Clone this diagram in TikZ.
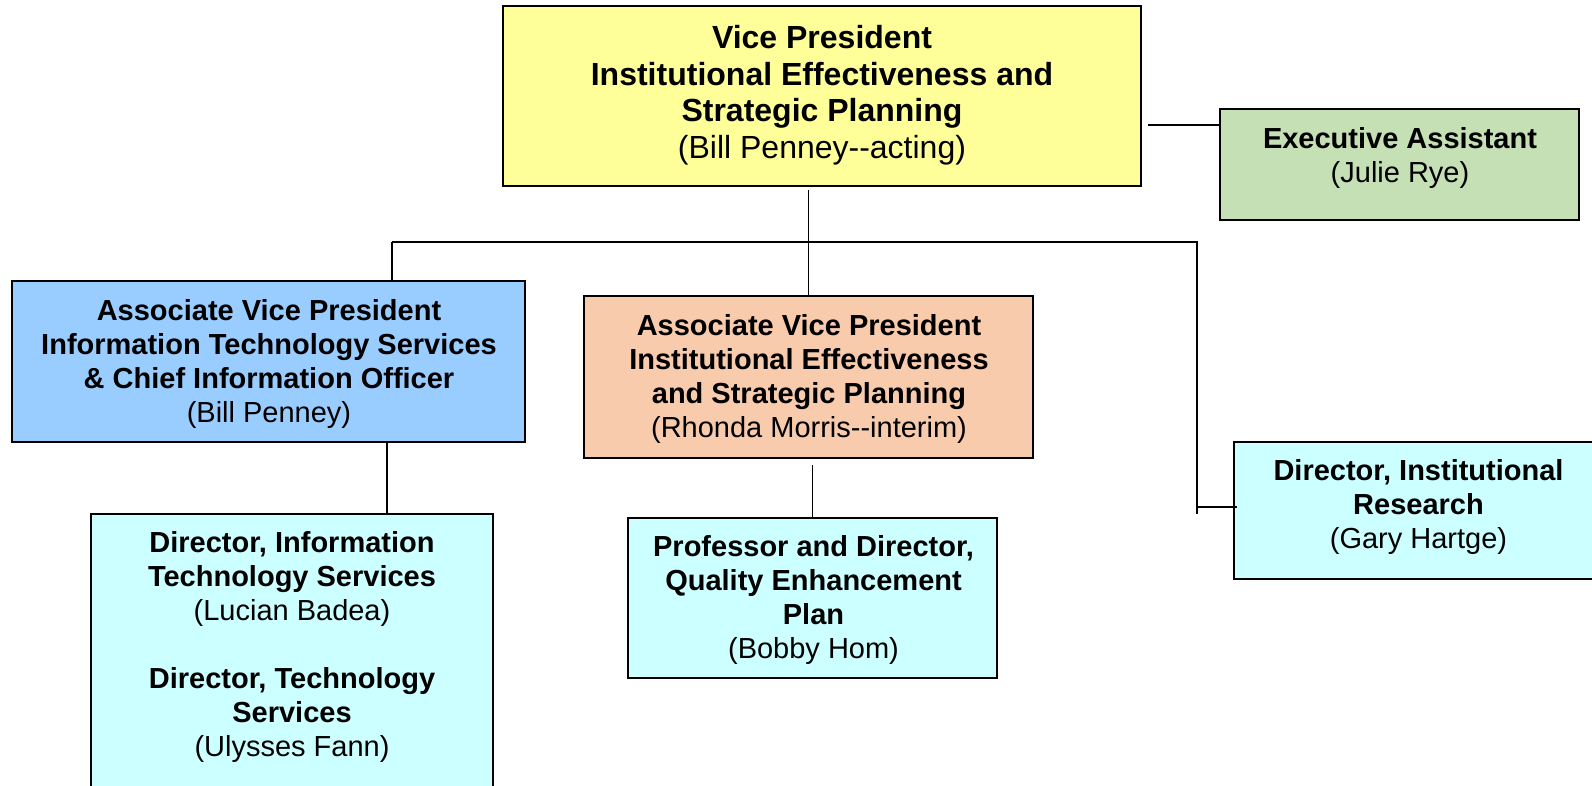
\documentclass[tikz,border=0pt]{standalone}
\usepackage{fontspec}
\setmainfont{Liberation Sans}
\definecolor{vpyellow}{HTML}{FFFF99}
\definecolor{eagreen}{HTML}{C5E0B4}
\definecolor{itblue}{HTML}{99CCFF}
\definecolor{ieorange}{HTML}{F8CBAD}
\definecolor{dircyan}{HTML}{CCFFFF}

\begin{document}
\begin{tikzpicture}[x=1pt,y=-1pt,
  box/.style={draw=black,line width=2pt,inner sep=0pt},
  txt/.style={align=center,inner sep=0pt,font=\fontsize{29}{34}\selectfont},
  link/.style={line width=1.8pt}]
\clip (0,0) rectangle (1592,786);
\fill[white] (0,0) rectangle (1592,786);
% boxes
\node[box,fill=vpyellow,minimum width=638pt,minimum height=180pt] (vp) at (822,96) {};
\node[box,fill=eagreen,minimum width=359pt,minimum height=111pt] (ea) at (1399.5,165) {};
\node[box,fill=itblue,minimum width=513pt,minimum height=161pt] (avpit) at (268.5,361.5) {};
\node[box,fill=ieorange,minimum width=449pt,minimum height=162pt] (avpie) at (808.5,377) {};
\node[box,fill=dircyan,minimum width=369pt,minimum height=160pt] (qep) at (812.5,598) {};
\node[box,fill=dircyan,minimum width=369pt,minimum height=137pt] (dirir) at (1418.5,510.5) {};
\node[box,fill=dircyan,minimum width=402pt,minimum height=306pt] (dirits) at (292,667) {};
% texts
\node[txt,font=\fontsize{32}{36.5}\selectfont] (vptext) at (822,95) {\textbf{Vice President}\\ \textbf{Institutional Effectiveness and}\\ \textbf{Strategic Planning}\\ (Bill Penney-{}-acting)};
\node[txt] (eatext) at (1400,158) {\textbf{Executive Assistant}\\ (Julie Rye)};
\node[txt] (avpittext) at (269,364.5) {\textbf{Associate Vice President}\\ \textbf{Information Technology Services}\\ \textbf{\& Chief Information Officer}\\ (Bill Penney)};
\node[txt] (avpietext) at (809,379) {\textbf{Associate Vice President}\\ \textbf{Institutional Effectiveness}\\ \textbf{and Strategic Planning}\\ (Rhonda Morris-{}-interim)};
\node[txt] (qeptext) at (813.5,600) {\textbf{Professor and Director,}\\ \textbf{Quality Enhancement}\\ \textbf{Plan}\\ (Bobby Hom)};
\node[txt] (dirirtext) at (1418.5,507) {\textbf{Director, Institutional}\\ \textbf{Research}\\ (Gary Hartge)};
\node[txt] (diritstext) at (292,647) {\textbf{Director, Information}\\ \textbf{Technology Services}\\ (Lucian Badea)\\[34pt] \textbf{Director, Technology}\\ \textbf{Services}\\ (Ulysses Fann)};
% connectors
\coordinate (busL) at (392,242);
\coordinate (busR) at (1197,242);
\draw[link] ([shift={(6pt,-29pt)}]vp.east) -- ([yshift=-29pt]vp.east -| ea.west);
\draw[link] ([yshift=-3pt]vp.south -| avpie.north) -- (avpie.north);
\draw[link] (busL) -- (busR) -- ++(0,272);
\draw[link] (busL) -- (busL |- avpit.north);
\draw[link] ([yshift=3.5pt]busR |- dirir.west) -- ([shift={(4pt,3.5pt)}]dirir.west);
\draw[link] ([xshift=95pt]dirits.north) -- ++(0,-70);
\draw[link] (qep.north) -- ([yshift=-6pt]qep.north |- avpie.south);
\end{tikzpicture}
\end{document}
